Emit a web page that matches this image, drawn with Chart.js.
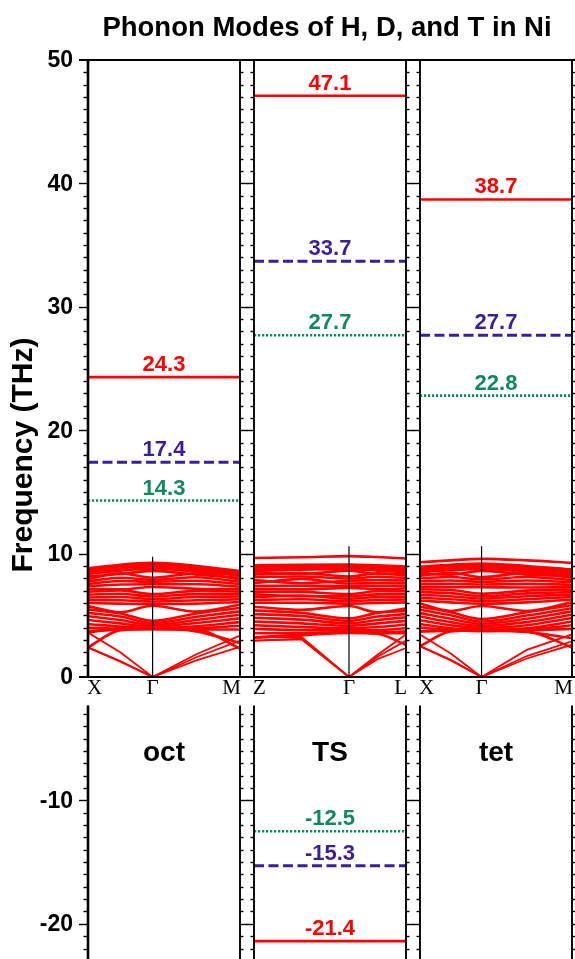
<!DOCTYPE html>
<html>
<head>
<meta charset="utf-8">
<script src="https://cdn.jsdelivr.net/npm/chart.js@4.4.1/dist/chart.umd.min.js"></script>
<style>
  html, body { margin: 0; padding: 0; background: #fff; }
  canvas { display: block; }
</style>
</head>
<body>
<canvas id="phononChart" width="575" height="959"></canvas>
<script>
// panels and high-symmetry points
const panelNames = ['oct', 'TS', 'tet'];
const kPointLabels = [['X', 'Γ', 'M'], ['Z', 'Γ', 'L'], ['X', 'Γ', 'M']];
const gammaFrac = [0.425, 0.625, 0.405];
const gammaLineTop = [9.75, 10.6, 10.6];

// localized H / D / T modes (THz)
const freqH = [24.3, 47.1, 38.7];
const freqD = [17.4, 33.7, 27.7];
const freqT = [14.3, 27.7, 22.8];
const imagTS = [-21.4, -15.3, -12.5]; // H, D, T imaginary modes at the TS

const yMajorTicks = [50, 40, 30, 20, 10, 0, -10, -20];

// Ni host bands, sampled at [start, mid, Γ, mid, end]
const bandsOct = [
  [8.80, 9.10, 9.25, 9.00, 8.60],
  [8.65, 8.95, 9.10, 8.88, 8.48],
  [8.50, 8.80, 8.95, 8.72, 8.35],
  [8.35, 8.62, 8.78, 8.55, 8.22],
  [8.15, 8.35, 8.60, 8.30, 8.05],
  [7.95, 8.40, 8.05, 8.40, 7.90],
  [7.75, 8.05, 7.88, 8.08, 7.72],
  [7.55, 7.78, 7.72, 7.80, 7.52],
  [7.35, 7.50, 7.52, 7.52, 7.32],
  [7.12, 7.10, 7.30, 7.15, 7.12],
  [6.90, 7.02, 6.72, 6.98, 6.92],
  [6.68, 6.75, 6.52, 6.72, 6.72],
  [6.45, 6.48, 6.32, 6.48, 6.52],
  [6.22, 6.22, 6.12, 6.22, 6.30],
  [6.00, 5.95, 5.92, 5.95, 6.08],
  [5.75, 5.25, 5.78, 5.30, 5.85],
  [5.48, 5.15, 4.55, 5.15, 5.60],
  [5.20, 4.90, 4.38, 4.88, 5.32],
  [4.92, 4.62, 4.22, 4.62, 5.05],
  [4.62, 4.35, 4.08, 4.38, 4.75],
  [4.30, 4.08, 3.98, 4.12, 4.45],
  [4.00, 3.90, 3.92, 3.95, 4.15],
  [3.72, 3.85, 3.88, 3.85, 3.85],
  [2.40, 3.80, 3.90, 3.85, 2.30],
  [3.60, 3.92, 3.95, 3.70, 2.75],
  [3.60, 2.00, 0.00, 1.85, 3.35],
  [2.40, 1.30, 0.00, 1.60, 2.95],
  [2.40, 1.25, 0.00, 1.35, 2.45]
];
const bandsTS = [
  [9.65, 9.70, 9.80, 9.72, 9.60],
  [9.05, 9.10, 9.12, 9.05, 8.95],
  [8.90, 8.98, 9.00, 8.92, 8.80],
  [8.75, 8.85, 8.88, 8.78, 8.65],
  [8.60, 8.70, 8.74, 8.62, 8.50],
  [8.45, 8.35, 8.62, 8.35, 8.35],
  [8.30, 8.42, 8.15, 8.40, 8.20],
  [8.10, 8.15, 7.98, 8.12, 8.02],
  [7.85, 7.60, 7.80, 7.85, 7.82],
  [7.60, 7.95, 7.58, 7.60, 7.60],
  [7.38, 7.40, 7.38, 7.38, 7.40],
  [7.15, 7.10, 7.22, 7.12, 7.18],
  [6.92, 6.90, 6.72, 6.95, 6.95],
  [6.70, 6.55, 6.55, 6.70, 6.72],
  [6.48, 6.60, 6.35, 6.48, 6.50],
  [6.25, 6.30, 6.15, 6.25, 6.28],
  [6.02, 6.02, 5.95, 6.00, 6.05],
  [5.70, 5.45, 5.75, 5.25, 5.55],
  [5.40, 5.20, 4.75, 5.20, 5.35],
  [5.10, 4.95, 4.55, 4.90, 5.10],
  [4.80, 4.65, 4.35, 4.62, 4.85],
  [4.50, 4.35, 4.15, 4.35, 4.55],
  [4.20, 4.05, 3.95, 4.05, 4.25],
  [3.90, 3.80, 3.78, 3.80, 3.95],
  [3.55, 3.55, 3.62, 3.62, 3.70],
  [3.20, 3.38, 3.58, 3.55, 3.55],
  [3.20, 3.45, 3.60, 3.50, 2.60],
  [2.95, 3.10, 0.00, 1.80, 3.45],
  [2.95, 3.05, 0.00, 1.45, 2.35],
  [3.20, 3.25, 0.00, 1.65, 2.95]
];
const bandsTet = [
  [9.30, 9.45, 9.57, 9.45, 9.25],
  [8.95, 9.10, 9.20, 9.00, 8.72],
  [8.80, 8.98, 9.05, 8.85, 8.55],
  [8.65, 8.82, 8.90, 8.70, 8.42],
  [8.50, 8.65, 8.75, 8.55, 8.30],
  [8.35, 8.30, 8.60, 8.30, 8.18],
  [8.20, 8.45, 8.10, 8.42, 8.05],
  [8.00, 8.10, 7.92, 8.10, 7.88],
  [7.78, 7.82, 7.72, 7.82, 7.68],
  [7.55, 7.55, 7.50, 7.55, 7.48],
  [7.32, 7.28, 7.27, 7.25, 7.28],
  [7.10, 7.05, 6.75, 7.00, 7.08],
  [6.88, 6.80, 6.55, 6.78, 6.88],
  [6.65, 6.55, 6.35, 6.55, 6.68],
  [6.42, 6.30, 6.15, 6.30, 6.48],
  [6.20, 6.05, 5.95, 6.05, 6.28],
  [5.95, 5.35, 5.75, 5.35, 6.05],
  [5.70, 5.25, 4.70, 5.25, 5.82],
  [5.45, 5.00, 4.50, 4.98, 5.58],
  [5.18, 4.72, 4.32, 4.72, 5.32],
  [4.90, 4.45, 4.15, 4.45, 5.05],
  [4.60, 4.20, 3.98, 4.20, 4.78],
  [4.30, 3.95, 3.85, 3.95, 4.50],
  [4.00, 3.80, 3.75, 3.82, 4.20],
  [3.70, 3.78, 3.72, 3.78, 3.90],
  [2.50, 3.70, 3.80, 3.70, 2.40],
  [3.70, 3.75, 3.78, 3.65, 3.15],
  [3.45, 1.90, 0.00, 2.20, 3.45],
  [2.50, 1.40, 0.00, 1.70, 2.90],
  [2.50, 1.35, 0.00, 1.50, 2.62]
];
const panelBands = [bandsOct, bandsTS, bandsTet];

const GAP = 14 / 152;            // gap between panels, in panel widths
const Y_MIN = -22.85, Y_MAX = 50;
const LOWER_TOP = -2.3;          // top of the lower (negative) frame

const RED = '#ff0000', PURPLE = '#3b1e9e', GREEN = '#0f8a5c';
const FONT = '"Liberation Sans", Arial, Helvetica, sans-serif';
const SERIF = '"Liberation Serif", "Times New Roman", serif';

const isotopes = [
  { values: freqH, imag: imagTS[0], color: RED,    dash: [],       width: 2.6 },
  { values: freqD, imag: imagTS[1], color: PURPLE, dash: [10, 4.5], width: 3 },
  { values: freqT, imag: imagTS[2], color: GREEN,  dash: [2.2, 1.8], width: 2.6 }
];

const panelOffset = p => p * (1 + GAP);

const datasets = [];
panelBands.forEach((bands, p) => {
  const off = panelOffset(p), g = gammaFrac[p];
  const kx = [0, g / 2, g, (g + 1) / 2, 1];
  bands.forEach(band => {
    const acoustic = band[2] === 0; // acoustic branches run straight into Γ
    datasets.push({
      data: band.map((v, i) => ({ x: off + kx[i], y: v })),
      borderColor: RED,
      borderWidth: acoustic ? 1.8 : 2.6,
      pointRadius: 0,
      cubicInterpolationMode: acoustic ? 'default' : 'monotone',
      tension: 0,
      order: 2
    });
  });
  // vertical line at Γ
  datasets.push({
    data: [{ x: off + g, y: 0 }, { x: off + g, y: gammaLineTop[p] }],
    borderColor: '#000',
    borderWidth: 1.2,
    pointRadius: 0,
    tension: 0,
    order: 0
  });
});

isotopes.forEach(iso => {
  iso.values.forEach((v, p) => {
    const off = panelOffset(p);
    datasets.push({
      data: [{ x: off, y: v }, { x: off + 1, y: v }],
      borderColor: iso.color,
      borderWidth: iso.width,
      borderDash: iso.dash,
      pointRadius: 0,
      tension: 0,
      order: 1
    });
  });
  const offTS = panelOffset(1);
  datasets.push({
    data: [{ x: offTS, y: iso.imag }, { x: offTS + 1, y: iso.imag }],
    borderColor: iso.color,
    borderWidth: iso.width,
    borderDash: iso.dash,
    pointRadius: 0,
    tension: 0,
    order: 1
  });
});

function strokeLine(ctx, x1, y1, x2, y2) {
  ctx.beginPath();
  ctx.moveTo(x1, y1);
  ctx.lineTo(x2, y2);
  ctx.stroke();
}

const framePlugin = {
  id: 'panelFrames',
  afterDatasetsDraw(chart) {
    const ctx = chart.ctx, xs = chart.scales.x, ys = chart.scales.y;
    const area = chart.chartArea;
    const gapPx = xs.getPixelForValue(1 + GAP) - xs.getPixelForValue(1);
    const yTop = ys.getPixelForValue(Y_MAX), y0 = ys.getPixelForValue(0);
    const yLow = ys.getPixelForValue(LOWER_TOP), yBot = area.bottom;

    const borders = [];
    panelNames.forEach((n, p) => {
      const off = panelOffset(p);
      borders.push({ x: xs.getPixelForValue(off), dir: -1, outer: p === 0 });
      borders.push({ x: xs.getPixelForValue(off + 1), dir: 1, outer: p === panelNames.length - 1 });
    });

    ctx.save();
    ctx.strokeStyle = '#000';
    borders.forEach(b => {
      ctx.lineWidth = b.outer && b.dir < 0 ? 2.6 : 1.9;
      strokeLine(ctx, b.x, yTop, b.x, y0);
      strokeLine(ctx, b.x, yLow, b.x, yBot);
      ctx.lineWidth = 1.4;
      for (let v = Math.ceil(Y_MIN); v < Y_MAX; v++) {
        if (v > LOWER_TOP && v <= 0) continue;
        const major = v % 10 === 0;
        const len = major ? (b.outer ? 9 : gapPx / 2 + 0.5) : (b.outer ? 4.5 : 3.5);
        const py = Math.round(ys.getPixelForValue(v)) + 0.5;
        strokeLine(ctx, b.x, py, b.x + b.dir * len, py);
      }
    });
    ctx.lineWidth = 2.2;
    const xl = borders[0].x - 9, xr = borders[borders.length - 1].x + 9;
    strokeLine(ctx, xl, yTop, xr, yTop);
    strokeLine(ctx, xl, y0, xr, y0);
    ctx.restore();
  },
  afterDraw(chart) {
    const ctx = chart.ctx, xs = chart.scales.x, ys = chart.scales.y;
    const area = chart.chartArea;
    const y0 = ys.getPixelForValue(0);
    ctx.save();
    ctx.fillStyle = '#000';

    // title
    ctx.font = 'bold 27.5px ' + FONT;
    ctx.textAlign = 'center';
    ctx.textBaseline = 'middle';
    ctx.fillText('Phonon Modes of H, D, and T in Ni', (area.left + area.right) / 2 - 3, 28);

    // y tick labels
    ctx.font = 'bold 23px ' + FONT;
    ctx.textAlign = 'right';
    yMajorTicks.forEach(t => ctx.fillText(String(t), area.left - 15, ys.getPixelForValue(t) + 1));

    // y title
    ctx.save();
    ctx.translate(24, 455);
    ctx.rotate(-Math.PI / 2);
    ctx.textAlign = 'center';
    ctx.font = 'bold 30px ' + FONT;
    ctx.fillText('Frequency (THz)', 0, 0);
    ctx.restore();

    panelNames.forEach((name, p) => {
      const off = panelOffset(p);
      const xa = xs.getPixelForValue(off), xb = xs.getPixelForValue(off + 1);
      const xg = xs.getPixelForValue(off + gammaFrac[p]);
      // k-point labels
      ctx.fillStyle = '#000';
      ctx.font = '21px ' + SERIF;
      ctx.textBaseline = 'middle';
      ctx.textAlign = 'left';
      ctx.fillText(kPointLabels[p][0], xa - 1, y0 + 11);
      ctx.textAlign = 'center';
      ctx.fillText(kPointLabels[p][1], xg, y0 + 11);
      ctx.textAlign = 'right';
      ctx.fillText(kPointLabels[p][2], xb + 1, y0 + 11);
      // panel name
      ctx.font = 'bold 28px ' + FONT;
      ctx.textAlign = 'center';
      ctx.fillText(name, (xa + xb) / 2, ys.getPixelForValue(-6) + 2);
      // mode labels
      ctx.font = 'bold 22px ' + FONT;
      ctx.textBaseline = 'alphabetic';
      isotopes.forEach(iso => {
        ctx.fillStyle = iso.color;
        const v = iso.values[p];
        ctx.fillText(v.toFixed(1), (xa + xb) / 2, ys.getPixelForValue(v) - 6);
        if (p === 1) ctx.fillText(iso.imag.toFixed(1), (xa + xb) / 2, ys.getPixelForValue(iso.imag) - 6);
      });
    });
    ctx.restore();
  }
};

new Chart(document.getElementById('phononChart'), {
  type: 'line',
  data: { datasets: datasets },
  options: {
    responsive: false,
    animation: false,
    layout: { padding: { left: 88, right: 3, top: 60, bottom: 0 } },
    scales: {
      x: { type: 'linear', min: 0, max: 3 + 2 * GAP, display: false },
      y: { type: 'linear', min: Y_MIN, max: Y_MAX, display: false }
    },
    plugins: {
      legend: { display: false },
      tooltip: { enabled: false }
    }
  },
  plugins: [framePlugin]
});
</script>
</body>
</html>
